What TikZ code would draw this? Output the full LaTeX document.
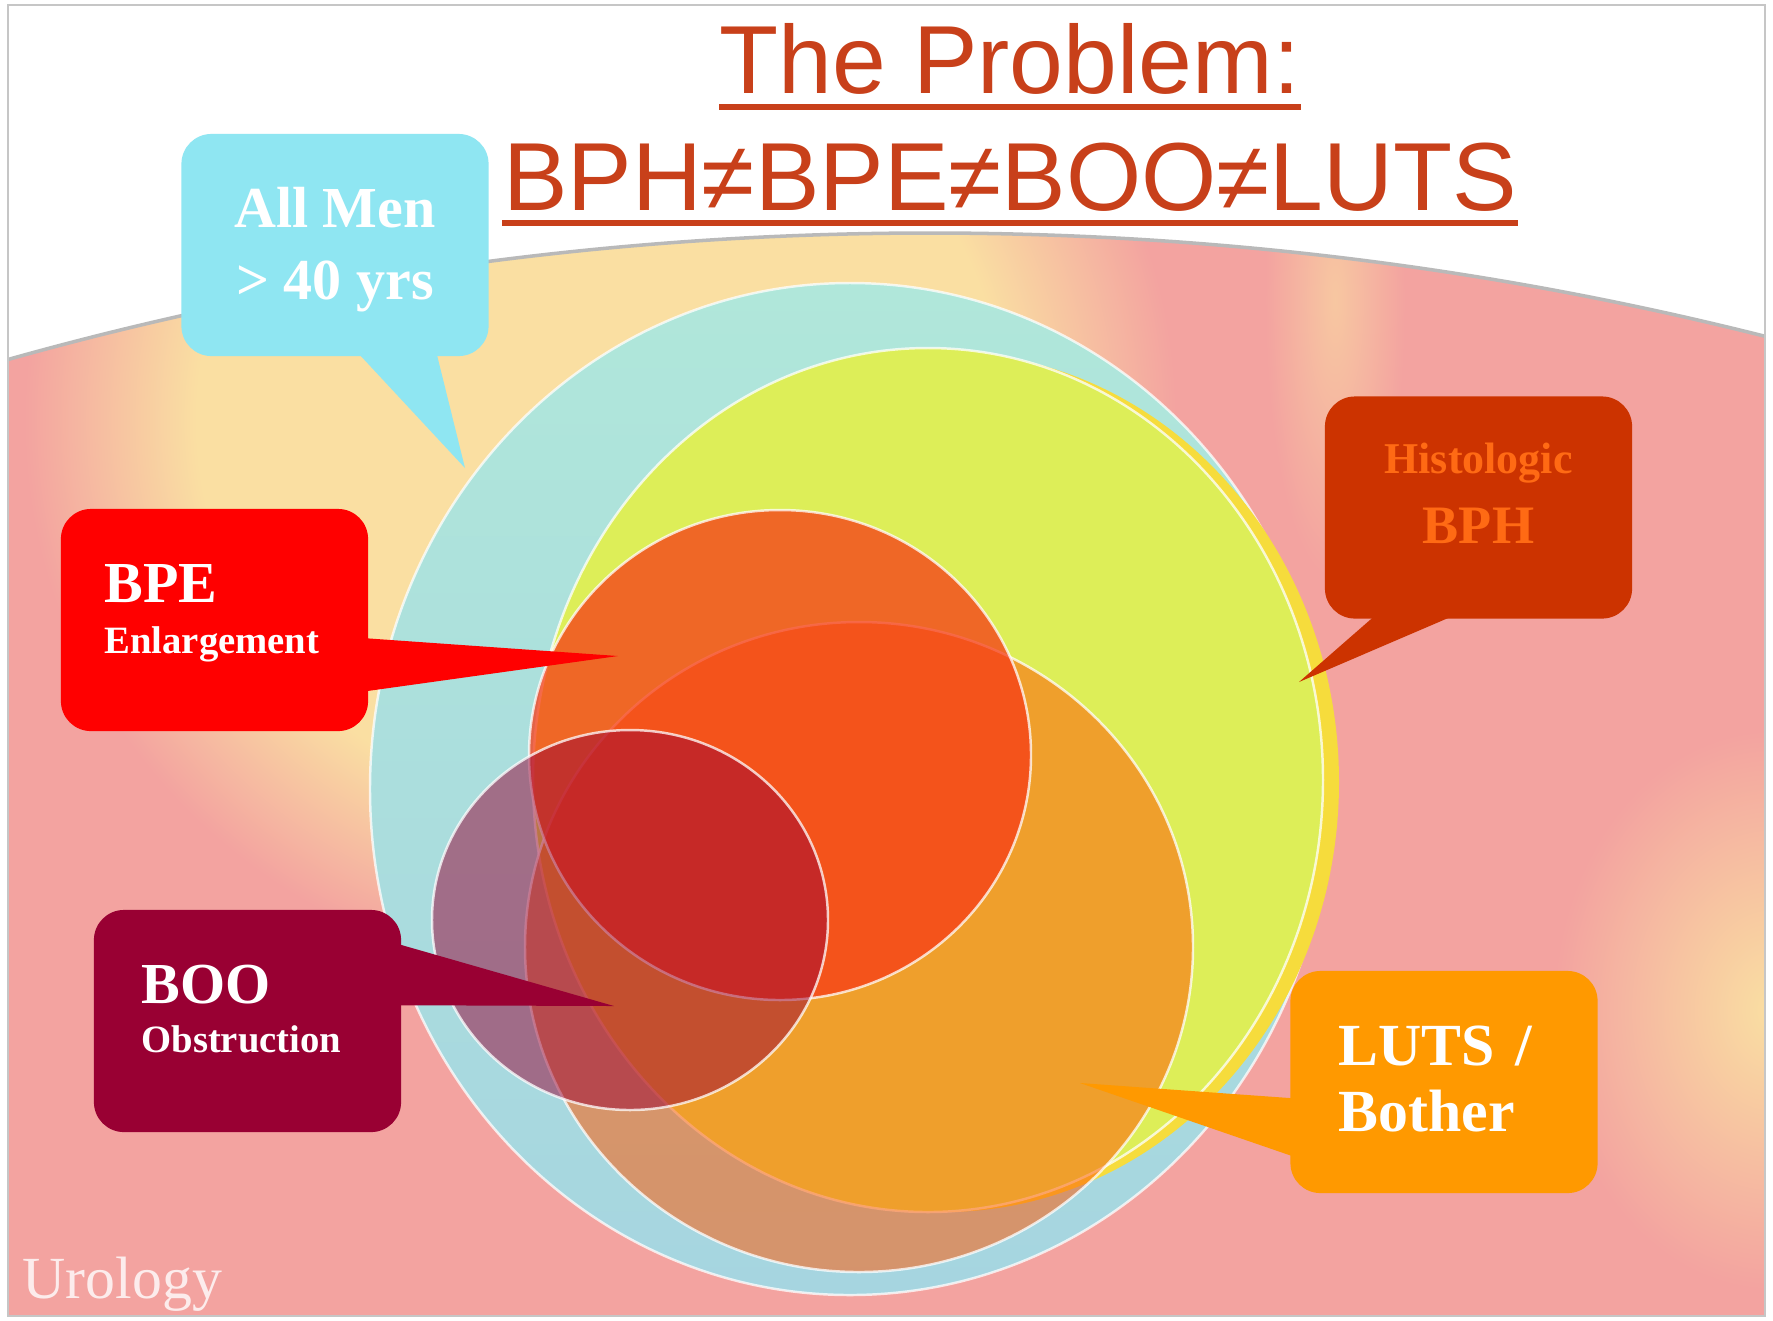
\documentclass[tikz,border=0pt]{standalone}
\usepackage{fontspec}
\setmainfont{Liberation Serif}
\newfontfamily\headfont{Liberation Sans}
\usetikzlibrary{calc}

\definecolor{headred}{HTML}{C8401A}
\definecolor{pinkbg}{HTML}{F3A3A0}
\definecolor{peachbg}{HTML}{FADFA2}
\definecolor{menteal}{HTML}{B0E7DA}
\definecolor{mentealb}{HTML}{A6D5E0}
\definecolor{bphyellow}{HTML}{DDEE58}
\definecolor{bphrim}{HTML}{F6DC3C}
\definecolor{lutsorange}{HTML}{FF5A05}
\definecolor{bpered}{HTML}{F63A16}
\definecolor{boomaroon}{HTML}{990033}
\definecolor{mencyan}{HTML}{8FE6F2}
\definecolor{bpebox}{HTML}{FF0000}
\definecolor{boobox}{HTML}{990033}
\definecolor{bphbox}{HTML}{CC3300}
\definecolor{bphtext}{HTML}{FF6A14}
\definecolor{lutsbox}{HTML}{FF9900}

\pgfdeclareradialshading{glow}{\pgfpoint{0bp}{0bp}}{color(0bp)=(peachbg); color(14bp)=(peachbg); color(20bp)=(pinkbg); color(50bp)=(pinkbg)}

\tikzstyle{callbox} = [rectangle, rounded corners=0.3cm, minimum width=3.07cm, minimum height=2.22cm, inner sep=0pt, text=white]
\tikzstyle{ring} = [draw=white, draw opacity=0.75, line width=0.7pt]
\tikzstyle{headline} = [inner sep=0pt, text=headred, font=\headfont\fontsize{27.5}{30}\selectfont]
\tikzstyle{headrule} = [draw=headred, line width=1.5pt]

\begin{document}
\begin{tikzpicture}[x=0.01cm, y=-0.01cm]
\useasboundingbox (0,0) rectangle (1773,1320);
\fill[white] (0,0) rectangle (1773,1320);

% Slide background
\begin{scope}
\clip (8,150) rectangle (1765,1316);
\clip (930,3633) circle [radius=3400];
\fill[pinkbg] (0,0) rectangle (1773,1320);
\shade[shading=glow] (600,420) ellipse [x radius=720, y radius=700];
\shade[inner color=peachbg!60!pinkbg, outer color=pinkbg] (1335,300) ellipse [x radius=70, y radius=280];
\shade[inner color=peachbg, outer color=pinkbg] (1773,1010) ellipse [x radius=220, y radius=280];
\end{scope}
\begin{scope}
\clip (8,0) rectangle (1765,1316);
\draw[gray!55, line width=1pt] (930,3633) circle [radius=3400];
\end{scope}
\draw[gray!45, line width=0.8pt] (8,5) rectangle (1765,1316);

% Title
\node (head1) [headline, anchor=base] at (1010,93) {The Problem:};
\node (head2) [headline, anchor=base] at (1010,210) {BPH≠BPE≠BOO≠LUTS};
\draw[headrule] ($(head1.base west)+(0,14)$) -- ($(head1.base east)+(0,14)$);
\draw[headrule] ($(head2.base west)+(0,13)$) -- ($(head2.base east)+(0,13)$);

% All men
\shade[top color=menteal, bottom color=mentealb] (850,789) ellipse [x radius=480, y radius=506];
\draw[ring] (850,789) ellipse [x radius=480, y radius=506];

% Histologic BPH
\fill[bphrim] (944,782) ellipse [x radius=395, y radius=430];
\fill[bphyellow] (928,780) ellipse [x radius=395, y radius=432];
\draw[ring] (928,780) ellipse [x radius=395, y radius=432];

% LUTS
\fill[lutsorange, opacity=0.53] (859,947) ellipse [x radius=334, y radius=325];
\draw[ring] (859,947) ellipse [x radius=334, y radius=325];

% BPE
\fill[bpered, opacity=0.75] (780,755) ellipse [x radius=251, y radius=245];
\draw[ring] (780,755) ellipse [x radius=251, y radius=245];

% BOO
\fill[boomaroon, opacity=0.5] (630,920) ellipse [x radius=198, y radius=190];
\draw[ring] (630,920) ellipse [x radius=198, y radius=190];

% Callouts
\node (allmen) [callbox, fill=mencyan, align=center, font=\bfseries\fontsize{16.5}{20.5}\selectfont] at (335,245) {\rule{0pt}{0.5cm}All Men\\> 40 yrs};
\coordinate (mentip) at (465,468);
\fill[mencyan] ($(allmen.south west)+(178,-3)$) -- (mentip) -- ($(allmen.south west)+(256,-3)$) -- cycle;

\node (bpe) [callbox, fill=bpebox, text width=2.2cm, align=left, font=\bfseries\fontsize{16.5}{14.5}\selectfont] at (214.5,620) {BPE\\{\fontsize{11}{14.5}\selectfont Enlargement}\rule[-0.23cm]{0pt}{0pt}};
\coordinate (bpetip) at (618,656);
\fill[bpebox] ($(bpe.north east)+(-3,130)$) -- (bpetip) -- ($(bpe.north east)+(-3,183)$) -- cycle;

\node (boo) [callbox, fill=boobox, text width=2.12cm, align=left, font=\bfseries\fontsize{16.5}{14}\selectfont] at (247.5,1021) {BOO\\{\fontsize{11}{14}\selectfont Obstruction}\rule[-0.24cm]{0pt}{0pt}};
\coordinate (bootip) at (614,1006);
\fill[boobox] ($(boo.north east)+(-3,35)$) -- (bootip) -- ($(boo.north east)+(-3,96)$) -- cycle;

\node (bph) [callbox, fill=bphbox, text=bphtext, align=center, font=\bfseries\fontsize{12.5}{20}\selectfont] at (1478.5,507.5) {Histologic\\{\fontsize{15.4}{20}\selectfont BPH}\rule[-0.29cm]{0pt}{0pt}};
\coordinate (bphtip) at (1299,682);
\fill[bphbox] ($(bph.south west)+(50,-3)$) -- (bphtip) -- ($(bph.south west)+(128,-3)$) -- cycle;

\node (luts) [callbox, fill=lutsbox, text width=2.1cm, align=left, font=\bfseries\fontsize{17}{18.8}\selectfont] at (1444,1082) {LUTS /\\Bother\rule[-0.07cm]{0pt}{0pt}};
\coordinate (lutstip) at (1080,1083);
\fill[lutsbox] ($(luts.north west)+(3,128)$) -- (lutstip) -- ($(luts.north west)+(3,186)$) -- cycle;

% Footer
\node (logo) [anchor=base west, inner sep=0pt, text=white, text opacity=0.8, font=\fontsize{17}{20}\selectfont] at (22,1298) {Urology};

\end{tikzpicture}
\end{document}
